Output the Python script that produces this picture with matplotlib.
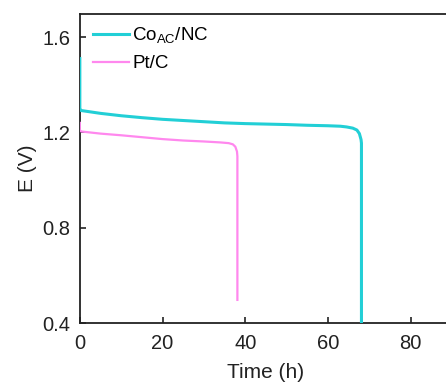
import matplotlib

matplotlib.use("Agg")
import matplotlib.pyplot as plt

plt.rcParams["font.family"] = ["Liberation Sans", "DejaVu Sans"]

# Co_AC/NC discharge curve
co_time = [0, 0, 0.3, 5, 10, 15, 20, 25, 30, 35, 40, 45, 50, 55, 60, 63, 64.5, 66, 67, 67.6, 68.0, 68.1, 68.1]
co_volt = [1.51, 1.30, 1.292, 1.28, 1.27, 1.262, 1.255, 1.25, 1.245, 1.24, 1.237, 1.235, 1.233, 1.23, 1.228,
           1.226, 1.223, 1.218, 1.21, 1.195, 1.17, 1.155, 0.3]

# Pt/C discharge curve
pt_time = [0, 0, 0.3, 5, 10, 15, 20, 25, 30, 34, 36, 37, 37.6, 38.0, 38.1, 38.1]
pt_volt = [1.24, 1.21, 1.204, 1.195, 1.188, 1.18, 1.172, 1.166, 1.162, 1.158, 1.155, 1.15, 1.14, 1.12, 1.10, 0.497]

x_ticks = [0, 20, 40, 60, 80]
y_ticks = [0.4, 0.8, 1.2, 1.6]

fig = plt.figure(figsize=(4.46, 3.85), dpi=100)
fig.patch.set_facecolor("white")
ax = fig.add_axes([0.179, 0.161, 0.8345, 0.8026])

ax.plot(co_time, co_volt, color="#22CFD6", linewidth=2.2, zorder=3, label=r"Co$_{\mathregular{AC}}$/NC")
ax.plot(pt_time, pt_volt, color="#FF88EE", linewidth=1.6, zorder=3, label="Pt/C")

ax.set_xlim(0, 90)
ax.set_ylim(0.4, 1.697)
ax.set_xticks(x_ticks)
ax.set_yticks(y_ticks)
ax.set_yticklabels([f"{v:.1f}" for v in y_ticks])
ax.tick_params(direction="in", length=4, width=1.2, labelsize=14.5, colors="#222222")
ax.tick_params(axis="x", pad=8)
ax.tick_params(axis="y", pad=7)
for side in ["left", "bottom", "top"]:
    ax.spines[side].set_linewidth(1.3)
    ax.spines[side].set_color("#222222")
ax.spines["right"].set_visible(False)

ax.set_xlabel("Time (h)", fontsize=15, labelpad=7, color="#222222")
ax.set_ylabel("E (V)", fontsize=15, labelpad=4, color="#222222")

ax.legend(loc="upper left", frameon=False, fontsize=13.5, handlelength=1.9, handletextpad=0.2,
          labelspacing=0.5, borderaxespad=0.2, bbox_to_anchor=(0.005, 1.0))

fig.savefig("out.png", dpi=100)
plt.close(fig)
